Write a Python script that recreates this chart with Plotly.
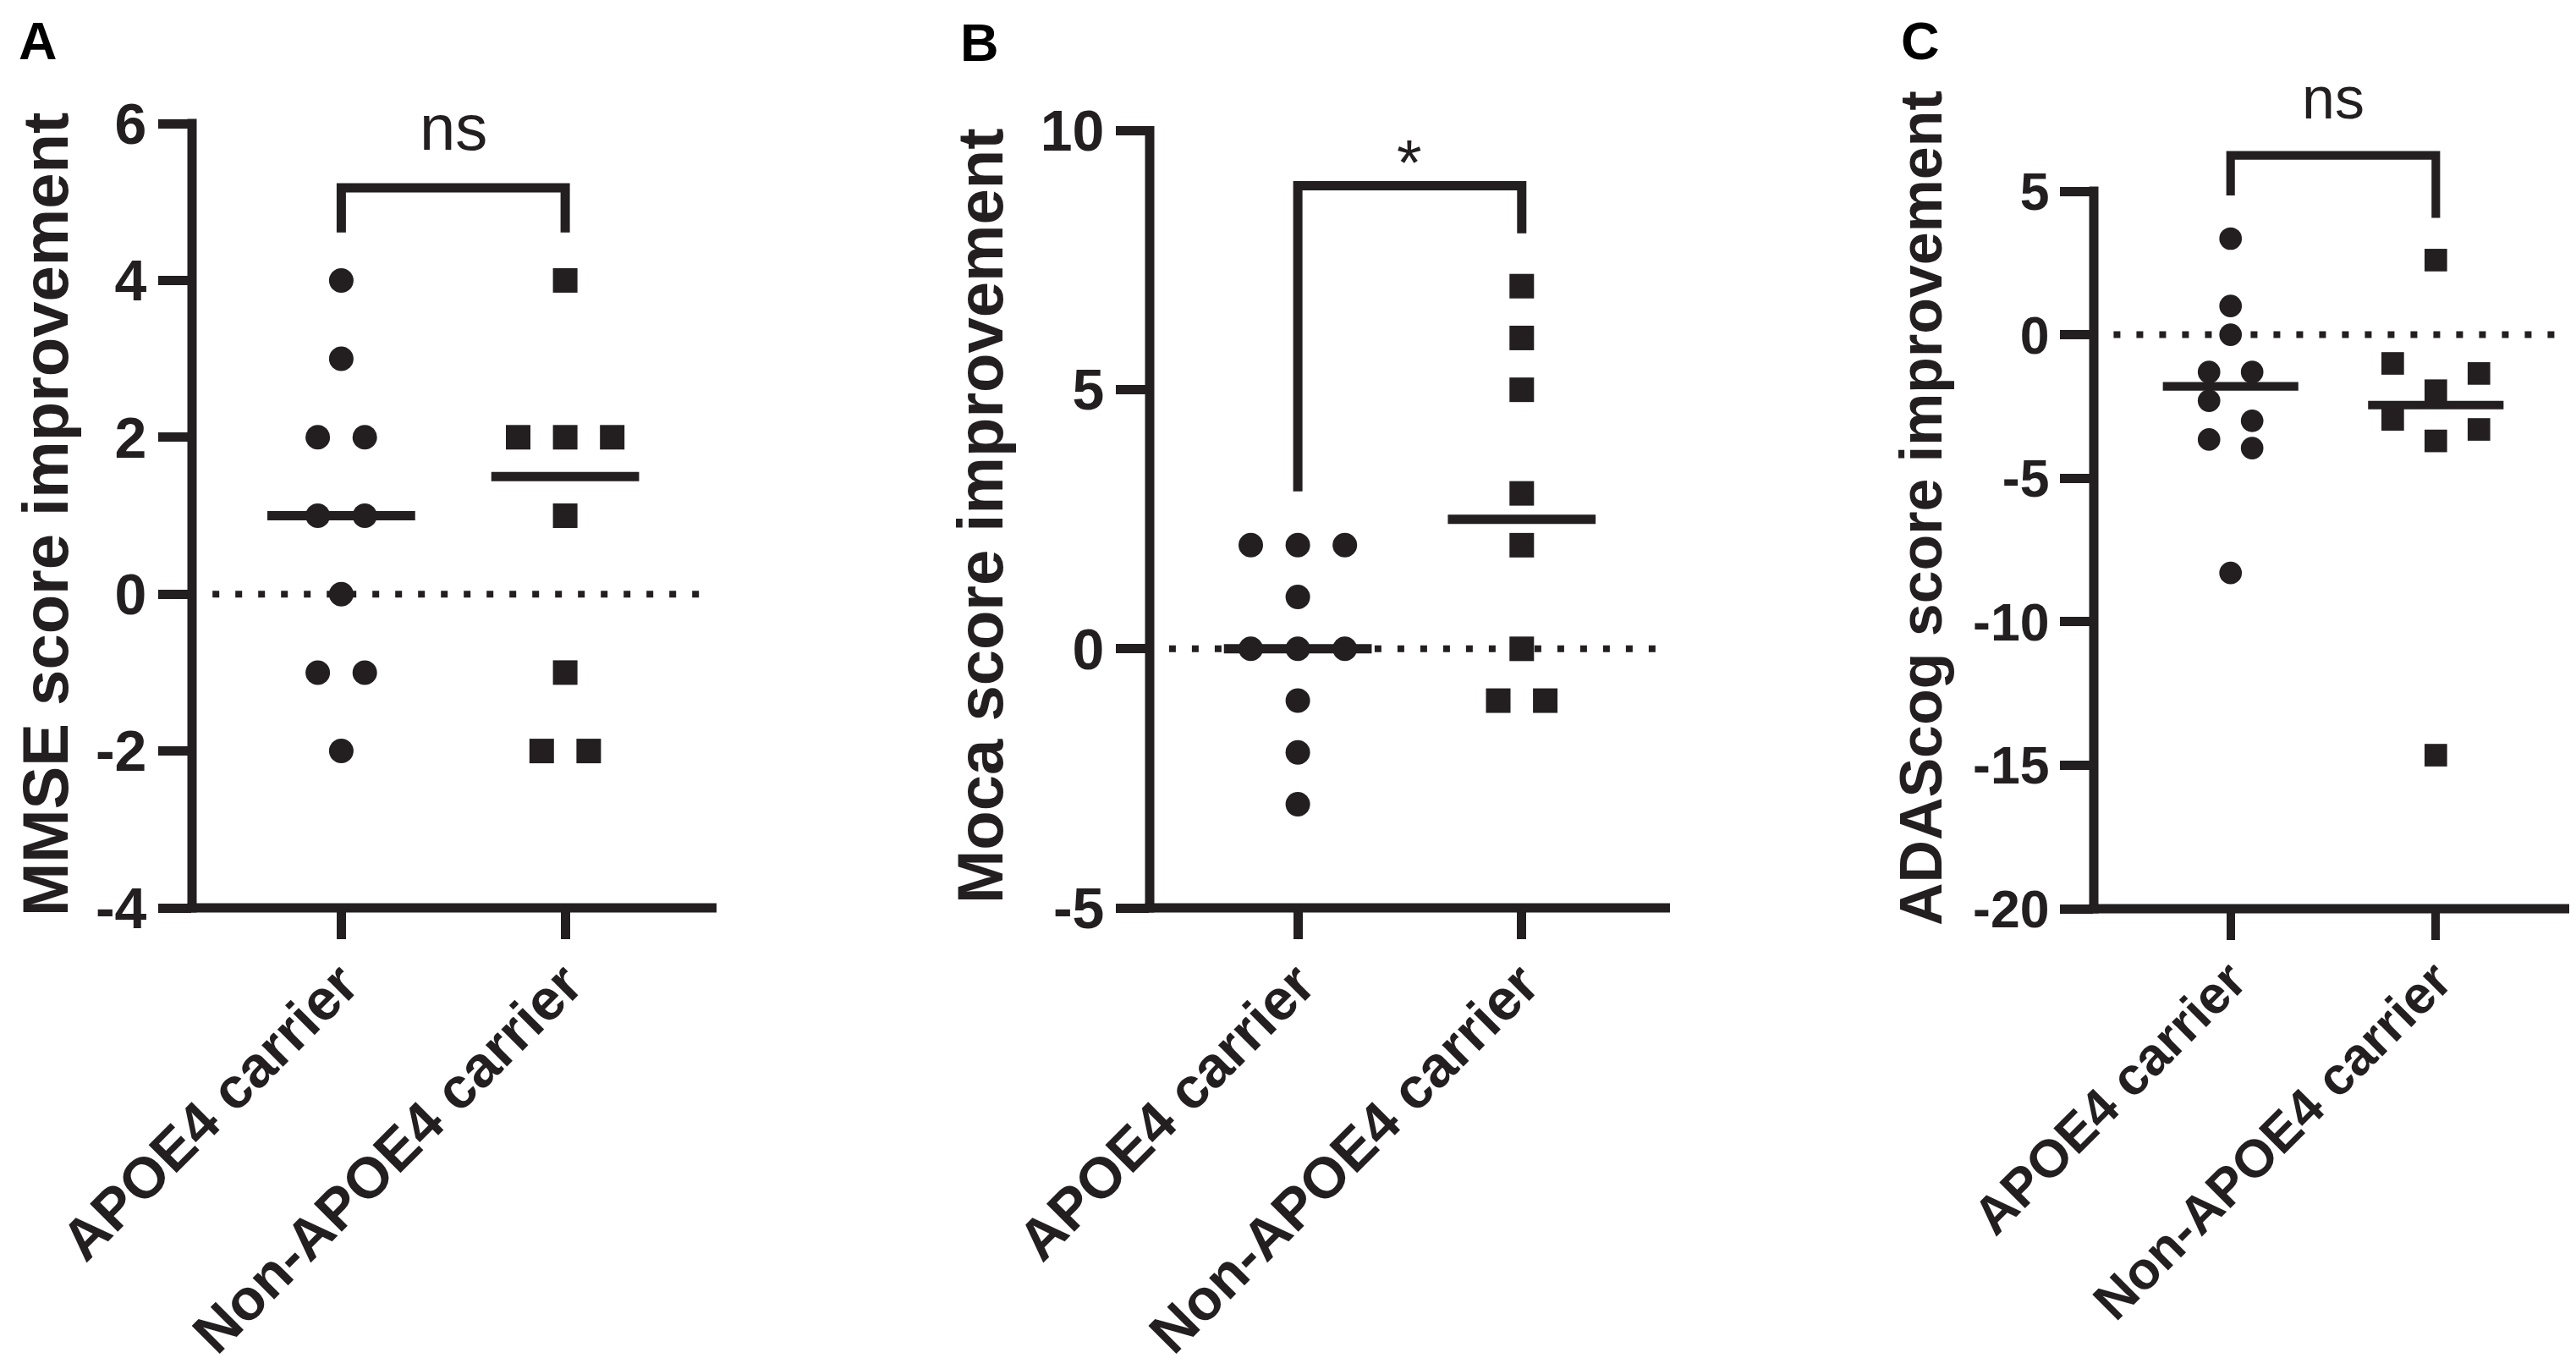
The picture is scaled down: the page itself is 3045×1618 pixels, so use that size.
import numpy as np
import plotly.graph_objects as go

W, H = 3045, 1618
INK = "#231f20"
FONT = "Liberation Sans, Arial, sans-serif"

groups = ["APOE4 carrier", "Non-APOE4 carrier"]

# score improvement per patient
mmse_apoe4 = [4, 3, 2, 2, 1, 1, 0, -1, -1, -2]
mmse_non = [4, 2, 2, 2, 1, -1, -2, -2]
moca_apoe4 = [2, 2, 2, 1, 0, 0, 0, -1, -2, -3]
moca_non = [7, 6, 5, 3, 2, 0, -1, -1]
adas_apoe4 = [3.35, 1.0, 0.0, -1.3, -1.3, -2.3, -3.0, -3.65, -3.95, -8.3]
adas_non = [2.6, -1.0, -1.35, -1.95, -2.95, -3.3, -3.7, -14.65]

mmse_ticks = [-4, -2, 0, 2, 4, 6]
moca_ticks = [-5, 0, 5, 10]
adas_ticks = [-20, -15, -10, -5, 0, 5]

titles = ["MMSE score improvement", "Moca score improvement", "ADAScog score improvement"]
letters = ["A", "B", "C"]
signif = ["ns", "*", "ns"]

# layout of each panel in pixels (spine x, axis end x, category centres, bottom / top tick y)
panels = [
    dict(data=(mmse_apoe4, mmse_non), ticks=mmse_ticks, spine=219, end=839, c0=395.4, c1=660.1,
         bottom=1065, top=138, bracket=(4.61, 5.18, 4.61), sig_y=5.95, dots=(-0.575, 1.64),
         title_xy=(45, 600), letter_xy=(37, 40), k=1.0),
    dict(data=(moca_apoe4, moca_non), ticks=moca_ticks, spine=1351, end=1966, c0=1526.1, c1=1790.8,
         bottom=1065, top=146.5, bracket=(3.04, 8.94, 8.02), sig_y=9.4, dots=(-0.575, 1.64),
         title_xy=(1150, 602), letter_xy=(1150, 42), k=1.0),
    dict(data=(adas_apoe4, adas_non), ticks=adas_ticks, spine=2467, end=3038, c0=2628.7, c1=2871.3,
         bottom=1066, top=218, bracket=(4.85, 6.25, 4.07), sig_y=8.25, dots=(-0.57, 1.667),
         title_xy=(2263, 593), letter_xy=(2262, 40), k=0.92),
]

LW = 11


def swarm(values, row_h, step):
    # GraphPad-like scatter: points closer than one row share a row, spread sideways
    order = sorted(range(len(values)), key=lambda i: -values[i])
    rows = []
    for i in order:
        if rows and values[rows[-1][0]] - values[i] < row_h:
            rows[-1].append(i)
        else:
            rows.append([i])
    offs = [0.0] * len(values)
    for row in rows:
        n = len(row)
        pos = sorted([j - (n - 1) / 2 for j in range(n)], key=lambda p: (-abs(p), p))
        for i, p in zip(row, pos):
            offs[i] = p * step
    return offs


fig = go.Figure()
shapes = []
annotations = []

for n, p in enumerate(panels):
    sfx = "" if n == 0 else str(n + 1)
    xa, ya = "x" + sfx, "y" + sfx
    k = p["k"]
    ymin, ytop = p["ticks"][0], p["ticks"][-1]
    unit = (p["bottom"] - p["top"]) / (ytop - ymin)
    ymax = ytop + p["top"] / unit
    span = p["c1"] - p["c0"]
    xr = [(p["spine"] - p["c0"]) / span, (p["end"] - p["c0"]) / span]

    # zero reference line
    fig.add_trace(go.Scatter(x=list(p["dots"]), y=[0, 0], mode="lines", xaxis=xa, yaxis=ya,
                             line=dict(color=INK, width=8, dash="8px,19px"), hoverinfo="skip"))

    for g, vals in enumerate(p["data"]):
        offs = swarm(vals, 33 / unit, 0.21)
        fig.add_trace(go.Scatter(
            x=[g + o for o in offs], y=vals, mode="markers", xaxis=xa, yaxis=ya,
            marker=dict(symbol="circle" if g == 0 else "square", size=29 * k, color=INK,
                        line=dict(width=0)),
            cliponaxis=False))
        med = float(np.median(vals))
        fig.add_trace(go.Scatter(x=[g - 0.33, g + 0.33], y=[med, med], mode="lines",
                                 xaxis=xa, yaxis=ya, line=dict(color=INK, width=LW * k),
                                 hoverinfo="skip"))

    # significance bracket
    b0, bt, b1 = p["bracket"]
    shapes.append(dict(type="path", xref=xa, yref=ya, path=f"M0,{b0} L0,{bt} L1,{bt} L1,{b1}",
                       line=dict(color=INK, width=LW * k)))
    annotations.append(dict(xref=xa, yref=ya, x=0.5, y=p["sig_y"], text=signif[n], showarrow=False,
                            xanchor="center", yanchor="middle",
                            font=dict(family=FONT, size=76 * k, color=INK)))

    # axis spines (drawn in paper space so they are not clipped)
    yb = (H - p["bottom"]) / H
    shapes.append(dict(type="line", xref="paper", yref="paper",
                       x0=p["spine"] / W, x1=p["spine"] / W,
                       y0=(H - p["bottom"] - LW / 2) / H, y1=(H - p["top"] + LW / 2) / H,
                       line=dict(color=INK, width=LW)))
    shapes.append(dict(type="line", xref="paper", yref="paper",
                       x0=(p["spine"] - LW / 2) / W, x1=p["end"] / W, y0=yb, y1=yb,
                       line=dict(color=INK, width=LW)))

    tx, ty = p["title_xy"]
    annotations.append(dict(xref="paper", yref="paper", x=tx / W, y=1 - ty / H, text=titles[n],
                            textangle=-90, showarrow=False, xanchor="center", yanchor="middle",
                            font=dict(family=FONT, size=76 * k, color=INK, weight="bold")))
    lx, ly = p["letter_xy"]
    annotations.append(dict(xref="paper", yref="paper", x=lx / W, y=1 - ly / H, text=letters[n],
                            showarrow=False, xanchor="center", yanchor="middle",
                            font=dict(family=FONT, size=63, color="black", weight="bold")))

    fig.update_layout(**{
        "xaxis" + sfx: dict(domain=[p["spine"] / W, p["end"] / W], range=xr, anchor=ya,
                            tickvals=[0, 1], ticktext=groups, tickangle=-45, automargin=False,
                            ticks="outside", ticklen=36, tickwidth=LW * k, tickcolor=INK,
                            ticklabelstandoff=-14,
                            tickfont=dict(family=FONT, size=68 * k, color=INK, weight="bold"),
                            showgrid=False, zeroline=False, showline=False),
        "yaxis" + sfx: dict(domain=[yb, 1], range=[ymin, ymax], anchor=xa, automargin=False,
                            tickvals=p["ticks"], ticktext=[str(t) for t in p["ticks"]],
                            ticks="outside", ticklen=39, tickwidth=LW, tickcolor=INK,
                            tickfont=dict(family=FONT, size=68 * k, color=INK, weight="bold"),
                            showgrid=False, zeroline=False, showline=False),
    })

fig.update_layout(width=W, height=H, margin=dict(l=0, r=0, t=0, b=0, autoexpand=False),
                  paper_bgcolor="white", plot_bgcolor="white", showlegend=False,
                  shapes=shapes, annotations=annotations)

fig.write_html("out.html")
